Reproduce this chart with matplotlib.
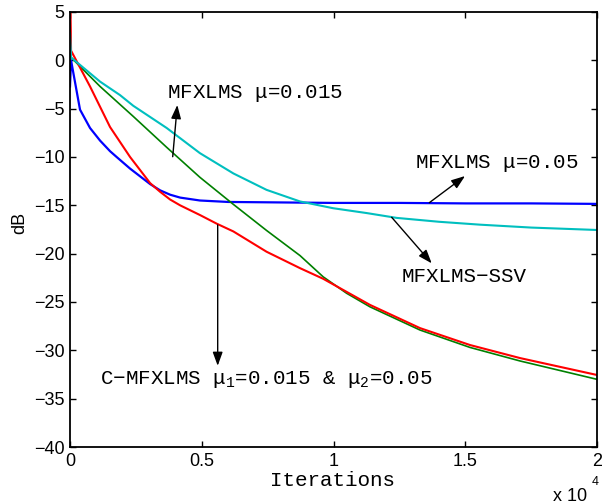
import matplotlib
matplotlib.use('Agg')
import matplotlib.pyplot as plt
from matplotlib.patches import ArrowStyle

plt.rcParams['mathtext.fontset'] = 'custom'
plt.rcParams['mathtext.rm'] = 'Liberation Mono'
plt.rcParams['mathtext.it'] = 'Liberation Mono'
plt.rcParams['mathtext.bf'] = 'Liberation Mono:bold'
plt.rcParams['font.family'] = ['Liberation Sans', 'DejaVu Sans']

# ---- data (iterations, dB) ----
blue_x = [0, 40, 380, 760, 1140, 1520, 1770, 2280, 2660, 3040, 3420, 3800, 4180,
          4930, 6000, 8000, 10000, 12500, 15000, 17500, 20000]
blue_y = [-2.7, 0.0, -5.1, -7.0, -8.3, -9.4, -10.0, -11.2, -12.0, -12.8, -13.45,
          -13.9, -14.2, -14.5, -14.65, -14.7, -14.75, -14.75, -14.8, -14.8, -14.85]

green_x = [0, 40, 1140, 2400, 3670, 4930, 6200, 7460, 8730, 9610, 10500, 11385,
           13283, 15180, 17078, 20000]
green_y = [0.3, 0.3, -2.7, -5.8, -9.0, -12.1, -14.9, -17.6, -20.2, -22.4, -24.1,
           -25.5, -27.9, -29.7, -31.1, -33.0]

red_x = [0, 40, 760, 1520, 2280, 3040, 3420, 3800, 4180, 4930, 5570, 6200, 7460,
         8730, 9610, 11385, 13283, 15180, 17078, 20000]
red_y = [9.0, 1.0, -2.7, -6.9, -10.0, -12.7, -13.6, -14.4, -15.0, -16.0, -16.9,
         -17.7, -19.8, -21.5, -22.6, -25.3, -27.7, -29.45, -30.8, -32.55]

cyan_x = [0, 40, 1140, 1900, 2400, 3670, 4930, 6200, 7460, 8730, 9990, 11260,
          12400, 14000, 15560, 17500, 20000]
cyan_y = [2.8, 0.3, -2.2, -3.6, -4.7, -7.0, -9.6, -11.7, -13.4, -14.6, -15.3,
          -15.8, -16.3, -16.7, -17.0, -17.3, -17.55]

xticks = [0, 5000, 10000, 15000, 20000]
xtick_labels = ['0', '0.5', '1', '1.5', '2']
yticks = [-40, -35, -30, -25, -20, -15, -10, -5, 0, 5]

W, H = 602, 504
fig = plt.figure(figsize=(W / 100, H / 100), dpi=100)
ax = fig.add_axes([70 / W, 1 - 447 / H, 527 / W, 435 / H])

ax.plot(blue_x, blue_y, color='#0000ff', lw=1.6)
ax.plot(green_x, green_y, color='#008000', lw=1.2)
ax.plot(red_x, red_y, color='#ff0000', lw=1.5)
ax.plot(cyan_x, cyan_y, color='#00bfbf', lw=1.5)

ax.set_xlim(0, 20000)
ax.set_ylim(-40, 5)
ax.set_xticks(xticks)
ax.set_xticklabels(xtick_labels)
ax.set_yticks(yticks)
ax.tick_params(direction='in', length=4.3, width=1.0, top=True, right=True,
               labelsize=13, pad=4)
for s in ax.spines.values():
    s.set_linewidth(1.3)

mono = ['Liberation Mono', 'DejaVu Sans Mono']
fs = 15
astyle = ArrowStyle('-|>', head_length=0.55, head_width=0.2)
aprops = dict(arrowstyle=astyle, color='k', lw=1.0, mutation_scale=15,
              shrinkA=0, shrinkB=0)

ax.text(3670, -3.38, r'MFXLMS $\mu$=0.015', family=mono, fontsize=fs,
        ha='left', va='center')
ax.annotate('', xy=(4072, -4.62), xytext=(3898, -9.97), arrowprops=aprops)

ax.text(13093, -10.72, r'MFXLMS $\mu$=0.05', family=mono, fontsize=fs,
        ha='left', va='center')
ax.annotate('', xy=(14991, -11.97), xytext=(13636, -14.73), arrowprops=aprops)

ax.text(12588, -22.38, 'MFXLMS\u2212SSV', family=mono, fontsize=fs,
        ha='left', va='center')
ax.annotate('', xy=(13727, -21.0), xytext=(12209, -16.24), arrowprops=aprops)

ax.text(1139, -33.0, 'C\u2212MFXLMS ' + r'$\mu_1$=0.015 & $\mu_2$=0.05',
        family=mono, fontsize=fs, ha='left', va='center')
ax.annotate('', xy=(5605, -31.6), xytext=(5605, -17.03), arrowprops=aprops)

fig.text(20 / W, 1 - 223 / H, 'dB', rotation=90, fontsize=13,
         ha='center', va='center')
fig.text(333 / W, 1 - 480 / H, 'Iterations', family=mono, fontsize=fs,
         ha='center', va='center')
fig.text(553 / W, 1 - 501 / H, 'x 10', fontsize=13, ha='left', va='baseline')
fig.text(592 / W, 1 - 485 / H, '4', fontsize=9, ha='left', va='baseline')

fig.savefig('out.png', dpi=100)
